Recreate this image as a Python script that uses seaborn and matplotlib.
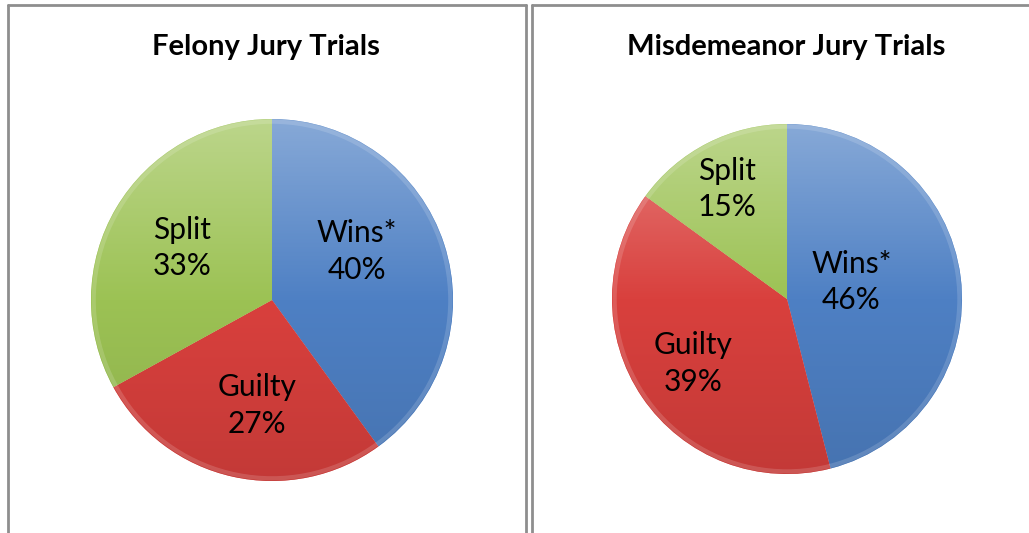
import numpy as np
import matplotlib
matplotlib.use("Agg")
import matplotlib.pyplot as plt
import seaborn as sns
from matplotlib.colors import LinearSegmentedColormap, to_rgb
from matplotlib.lines import Line2D

# ---- data ----
categories = ["Wins*", "Guilty", "Split"]
felony_pct = [40, 27, 33]
misdemeanor_pct = [46, 39, 15]
titles = ["Felony Jury Trials", "Misdemeanor Jury Trials"]

sns.set_theme(style="white")
plt.rcParams['font.family'] = ['Lato', 'DejaVu Sans']

palette = sns.color_palette(["#4E80C4", "#D9403D", "#9CC254"])

W, H = 1029, 533
fig = plt.figure(figsize=(W / 100, H / 100), dpi=100)


def px_axes(cx, cy, r):
    return fig.add_axes([(cx - r) / W, (H - cy - r) / H, 2 * r / W, 2 * r / H])


def shade(c, f):
    c = np.array(to_rgb(c))
    if f >= 0:
        return tuple(c + (1 - c) * f)
    return tuple(c * (1 + f))


def draw_pie(ax, values, label_place):
    wedges, _ = ax.pie(values, colors=palette, startangle=90, counterclock=False,
                       radius=1.0, wedgeprops=dict(linewidth=0.8, edgecolor=(1, 1, 1, 0.35)))
    n = 300
    yy = np.linspace(1, -1, n)[:, None] * np.ones((1, n))
    grad = (yy + 1) / 2  # 1 at top, 0 at bottom
    for w, col in zip(wedges, palette):
        cmap = LinearSegmentedColormap.from_list(
            "g", [shade(col, -0.10), col, shade(col, 0.32)])
        im = ax.imshow(grad, cmap=cmap, extent=[-1, 1, -1, 1], origin="upper",
                       vmin=0, vmax=1, zorder=1.5, interpolation="bilinear")
        im.set_clip_path(w)
    # soft rim highlight
    ax.add_patch(plt.Circle((0, 0), 0.985, fill=False, lw=3, ec=(1, 1, 1, 0.15), zorder=2))
    total = sum(values)
    for w, cat, v, (d, dang) in zip(wedges, categories, values, label_place):
        ang = np.deg2rad((w.theta1 + w.theta2) / 2 + dang)
        ax.text(d * np.cos(ang), d * np.sin(ang), f"{cat}\n{round(100 * v / total)}%",
                ha="center", va="center", fontsize=21.5, color="black",
                linespacing=1.38, zorder=5)
    ax.set_xlim(-1.02, 1.02)
    ax.set_ylim(-1.02, 1.02)
    ax.set_aspect("equal")
    ax.axis("off")


ax1 = px_axes(272, 300, 181 * 1.02)
draw_pie(ax1, felony_pct, [(0.54, 12.0), (0.59, 4.6), (0.574, 0.6)])
ax2 = px_axes(787, 299, 175 * 1.02)
draw_pie(ax2, misdemeanor_pct, [(0.38, 7.5), (0.65, 0.5), (0.716, 1.6)])

fig.text(266 / W, 1 - 55 / H, titles[0], ha="center", va="baseline",
         fontsize=21, fontweight="bold", color="black")
fig.text(786 / W, 1 - 55 / H, titles[1], ha="center", va="baseline",
         fontsize=21, fontweight="bold", color="black")

# panel borders
gc = "#8E8E8E"
lw = 2.0
def fline(x0, y0, x1, y1):
    fig.add_artist(Line2D([x0 / W, x1 / W], [1 - y0 / H, 1 - y1 / H],
                          transform=fig.transFigure, color=gc, lw=lw))
fline(8, 5, 8, H + 5)
fline(8, 5, 526, 5)
fline(526, 5, 526, H + 5)
fline(532, 5, 532, H + 5)
fline(532, 5, W + 5, 5)

fig.savefig("out.png", dpi=100, facecolor="white")
